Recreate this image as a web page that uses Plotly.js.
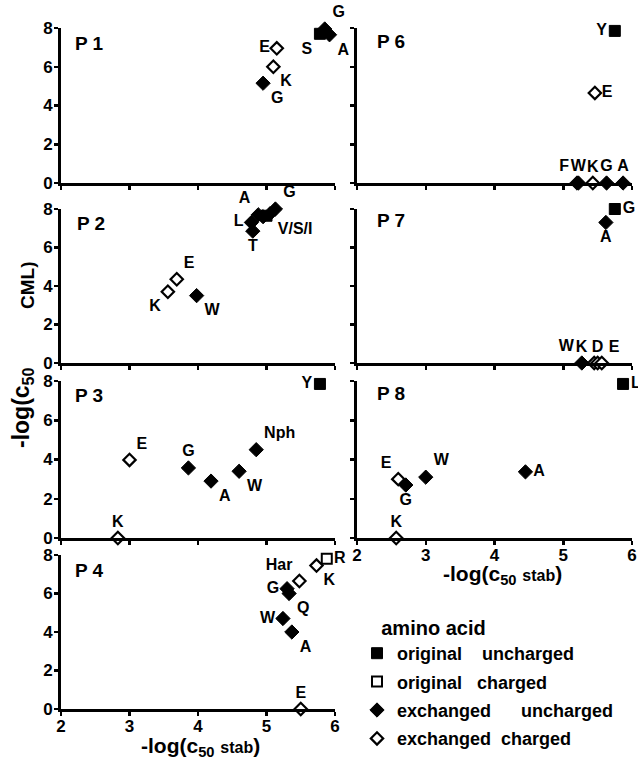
<!DOCTYPE html>
<html>
<head>
<meta charset="utf-8">
<script src="https://cdn.plot.ly/plotly-3.0.1.min.js"></script>
<style>html,body{margin:0;padding:0;background:#fff;}</style>
</head>
<body>
<div id="chart" style="width:638px;height:760px;"></div>
<script>
// ---------- DATA ----------
// kinds: ou = original uncharged, oc = original charged, eu = exchanged uncharged, ec = exchanged charged
const P1_labels = ['S', 'G', 'A', 'E', 'K', 'G'];
const P1_x = [5.78, 5.85, 5.92, 5.15, 5.10, 4.95];
const P1_y = [7.70, 7.95, 7.65, 6.95, 6.00, 5.15];
const P1_kind = ['ou', 'eu', 'eu', 'ec', 'ec', 'eu'];

const P2_labels = ['L', 'A', 'T', '', '', 'V/S/I', 'G', 'E', 'K', 'W'];
const P2_x = [4.78, 4.88, 4.80, 4.95, 5.00, 5.05, 5.13, 3.69, 3.56, 3.98];
const P2_y = [7.30, 7.70, 6.85, 7.60, 7.65, 7.75, 8.00, 4.35, 3.70, 3.50];
const P2_kind = ['eu', 'eu', 'eu', 'eu', 'ou', 'eu', 'eu', 'ec', 'ec', 'eu'];

const P3_labels = ['Y', 'E', 'K', 'G', 'A', 'W', 'Nph'];
const P3_x = [5.78, 3.00, 2.83, 3.86, 4.19, 4.60, 4.85];
const P3_y = [7.85, 3.98, 0.00, 3.57, 2.90, 3.40, 4.50];
const P3_kind = ['ou', 'ec', 'ec', 'eu', 'eu', 'eu', 'eu'];

const P4_labels = ['R', 'K', 'Har', 'G', 'Q', 'W', 'A', 'E'];
const P4_x = [5.88, 5.73, 5.48, 5.30, 5.33, 5.24, 5.37, 5.50];
const P4_y = [7.80, 7.45, 6.65, 6.25, 6.00, 4.70, 4.00, 0.00];
const P4_kind = ['oc', 'ec', 'ec', 'eu', 'eu', 'eu', 'eu', 'ec'];

const P6_labels = ['Y', 'E', 'F', 'W', 'K', 'G', 'A'];
const P6_x = [5.75, 5.46, 5.20, 5.22, 5.43, 5.63, 5.87];
const P6_y = [7.85, 4.65, 0.00, 0.00, 0.00, 0.00, 0.00];
const P6_kind = ['ou', 'ec', 'eu', 'eu', 'ec', 'eu', 'eu'];

const P7_labels = ['G', 'A', 'W', 'K', 'D', 'E'];
const P7_x = [5.75, 5.62, 5.27, 5.45, 5.50, 5.56];
const P7_y = [8.00, 7.30, 0.00, 0.00, 0.00, 0.00];
const P7_kind = ['ou', 'eu', 'eu', 'ec', 'ec', 'ec'];

const P8_labels = ['L', 'E', 'G', 'W', 'A', 'K'];
const P8_x = [5.87, 2.60, 2.71, 3.00, 4.45, 2.57];
const P8_y = [7.85, 3.00, 2.70, 3.10, 3.37, 0.00];
const P8_kind = ['ou', 'ec', 'eu', 'eu', 'eu', 'ec'];

const panelNames = ['P 1', 'P 2', 'P 3', 'P 4', 'P 6', 'P 7', 'P 8'];
const xTicks = [2, 3, 4, 5, 6];
const yTicks = [0, 2, 4, 6, 8];
const kindOrder = ['ou', 'oc', 'eu', 'ec'];
const kindNames = {
  ou: 'original\u00A0\u00A0\u00A0\u00A0uncharged',
  oc: 'original\u00A0\u00A0\u00A0charged',
  eu: 'exchanged\u00A0\u00A0\u00A0\u00A0\u00A0\u00A0uncharged',
  ec: 'exchanged\u00A0\u00A0charged'
};
const legendTitle = 'amino acid';

// ---------- LAYOUT / STYLE ----------
const labelPos = {
  1: ['bottom left', 'top right', 'bottom right', 'middle left', 'bottom right', 'bottom right'],
  2: ['middle left', 'top left', 'bottom center', 'middle right', 'middle right', 'bottom right', 'top right', 'top right', 'bottom left', 'bottom right'],
  3: ['middle left', 'top right', 'top center', 'top center', 'bottom right', 'bottom right', 'top right'],
  4: ['middle right', 'bottom right', 'top left', 'middle left', 'bottom right', 'middle left', 'bottom right', 'top center'],
  5: ['middle left', 'middle right', 'top left', 'top center', 'top center', 'top center', 'top center'],
  6: ['middle right', 'bottom center', 'top left', 'top left', 'top center', 'top right'],
  7: ['middle right', 'top left', 'bottom center', 'top right', 'middle right', 'top center']
};

const panels = [
  {labels: P1_labels, x: P1_x, y: P1_y, kind: P1_kind},
  {labels: P2_labels, x: P2_x, y: P2_y, kind: P2_kind},
  {labels: P3_labels, x: P3_x, y: P3_y, kind: P3_kind},
  {labels: P4_labels, x: P4_x, y: P4_y, kind: P4_kind},
  {labels: P6_labels, x: P6_x, y: P6_y, kind: P6_kind},
  {labels: P7_labels, x: P7_x, y: P7_y, kind: P7_kind},
  {labels: P8_labels, x: P8_x, y: P8_y, kind: P8_kind}
];

const W = 638, H = 760;
const px = v => v / W;
const py = v => 1 - v / H;
const colX = [[61, 335], [357, 632]];
const rowY = [[28, 183], [209, 363], [381, 538], [555, 709]];
const grid = [[0,0],[0,1],[0,2],[0,3],[1,0],[1,1],[1,2]]; // [col,row]

const FONT = 'Liberation Sans, Arial, Helvetica, sans-serif';
const markerStyle = {
  ou: {symbol: 'square', size: 11, color: 'black', line: {color: 'black', width: 1}},
  oc: {symbol: 'square', size: 10, color: 'white', line: {color: 'black', width: 2}},
  eu: {symbol: 'diamond', size: 11, color: 'black', line: {color: 'black', width: 1}},
  ec: {symbol: 'diamond', size: 9.5, color: 'white', line: {color: 'black', width: 2.2}}
};

const traces = [];
const shownKinds = {};
kindOrder.forEach(k => {
  panels.forEach((p, pi) => {
    const idx = p.kind.map((kk, i) => kk === k ? i : -1).filter(i => i >= 0);
    if (!idx.length) return;
    const n = pi + 1;
    const show = !shownKinds[k];
    shownKinds[k] = true;
    traces.push({
      type: 'scatter',
      mode: 'markers+text',
      x: idx.map(i => p.x[i]),
      y: idx.map(i => p.y[i]),
      text: idx.map(i => p.labels[i]),
      textposition: idx.map(i => labelPos[n][i]),
      textfont: {family: FONT, size: 16, color: 'black', weight: 'bold'},
      marker: markerStyle[k],
      cliponaxis: false,
      name: kindNames[k],
      legendgroup: k,
      showlegend: show,
      hoverinfo: 'skip',
      xaxis: 'x' + (n === 1 ? '' : n),
      yaxis: 'y' + (n === 1 ? '' : n)
    });
  });
});

const layout = {
  width: W, height: H,
  margin: {l: 0, r: 0, t: 0, b: 0},
  paper_bgcolor: 'white', plot_bgcolor: 'white',
  font: {family: FONT, color: 'black'},
  showlegend: true,
  legend: {
    x: px(357), y: py(757), xanchor: 'left', yanchor: 'bottom',
    bgcolor: 'rgba(0,0,0,0)',
    font: {family: FONT, size: 18, color: 'black', weight: 'bold'},
    title: {text: '\u00A0\u00A0\u00A0\u00A0' + legendTitle, font: {family: FONT, size: 20, color: 'black', weight: 'bold'}},
    traceorder: 'grouped', tracegroupgap: 2, itemwidth: 30
  },
  annotations: []
};

grid.forEach(([c, r], i) => {
  const n = i + 1;
  const sx = n === 1 ? '' : n;
  const showX = (n === 4 || n === 7);
  const showY = (c === 0);
  layout['xaxis' + sx] = {
    domain: [px(colX[c][0]), px(colX[c][1])],
    anchor: 'y' + sx, range: [2, 6], tickvals: xTicks,
    showticklabels: showX, ticks: 'outside', ticklen: 4, tickwidth: 2.5, tickcolor: 'black',
    ticklabelstandoff: -4,
    showline: true, linewidth: 3, linecolor: 'black', showgrid: false, zeroline: false,
    tickfont: {family: FONT, size: 17, color: 'black', weight: 'bold'}, fixedrange: true, automargin: false
  };
  layout['yaxis' + sx] = {
    domain: [py(rowY[r][1]), py(rowY[r][0])],
    anchor: 'x' + sx, range: [0, 8], tickvals: yTicks,
    showticklabels: showY, ticks: 'outside', ticklen: 4, tickwidth: 2.5, tickcolor: 'black',
    ticklabelstandoff: -2,
    showline: true, linewidth: 3, linecolor: 'black', showgrid: false, zeroline: false,
    tickfont: {family: FONT, size: 17, color: 'black', weight: 'bold'}, fixedrange: true, automargin: false
  };
});

// Panel labels
const panelLabelPos = [[73, 43], [75, 223], [73, 395], [73, 570], [375, 41], [375, 220], [375, 393]];
panelNames.forEach((t, i) => {
  layout.annotations.push({
    text: t, xref: 'paper', yref: 'paper', x: px(panelLabelPos[i][0]), y: py(panelLabelPos[i][1]),
    xanchor: 'left', yanchor: 'middle', showarrow: false,
    font: {family: FONT, size: 19, color: 'black', weight: 'bold'}
  });
});

// Axis titles
const xTitle = '-log(c<sub>50</sub> <span style="font-size:16px">stab</span>)';
[[200, 747], [502, 575]].forEach(([x, y]) => {
  layout.annotations.push({
    text: xTitle, xref: 'paper', yref: 'paper', x: px(x), y: py(y),
    xanchor: 'center', yanchor: 'middle', showarrow: false,
    font: {family: FONT, size: 21, color: 'black', weight: 'bold'}
  });
});
layout.annotations.push({
  text: '-log(c<sub>50</sub>', xref: 'paper', yref: 'paper', x: px(22), y: py(408),
  xanchor: 'center', yanchor: 'middle', textangle: -90, showarrow: false,
  font: {family: FONT, size: 23, color: 'black', weight: 'bold'}
});
layout.annotations.push({
  text: 'CML)', xref: 'paper', yref: 'paper', x: px(28), y: py(286),
  xanchor: 'center', yanchor: 'middle', textangle: -90, showarrow: false,
  font: {family: FONT, size: 19, color: 'black', weight: 'bold'}
});

Plotly.newPlot('chart', traces, layout, {staticPlot: true});
</script>
</body>
</html>
